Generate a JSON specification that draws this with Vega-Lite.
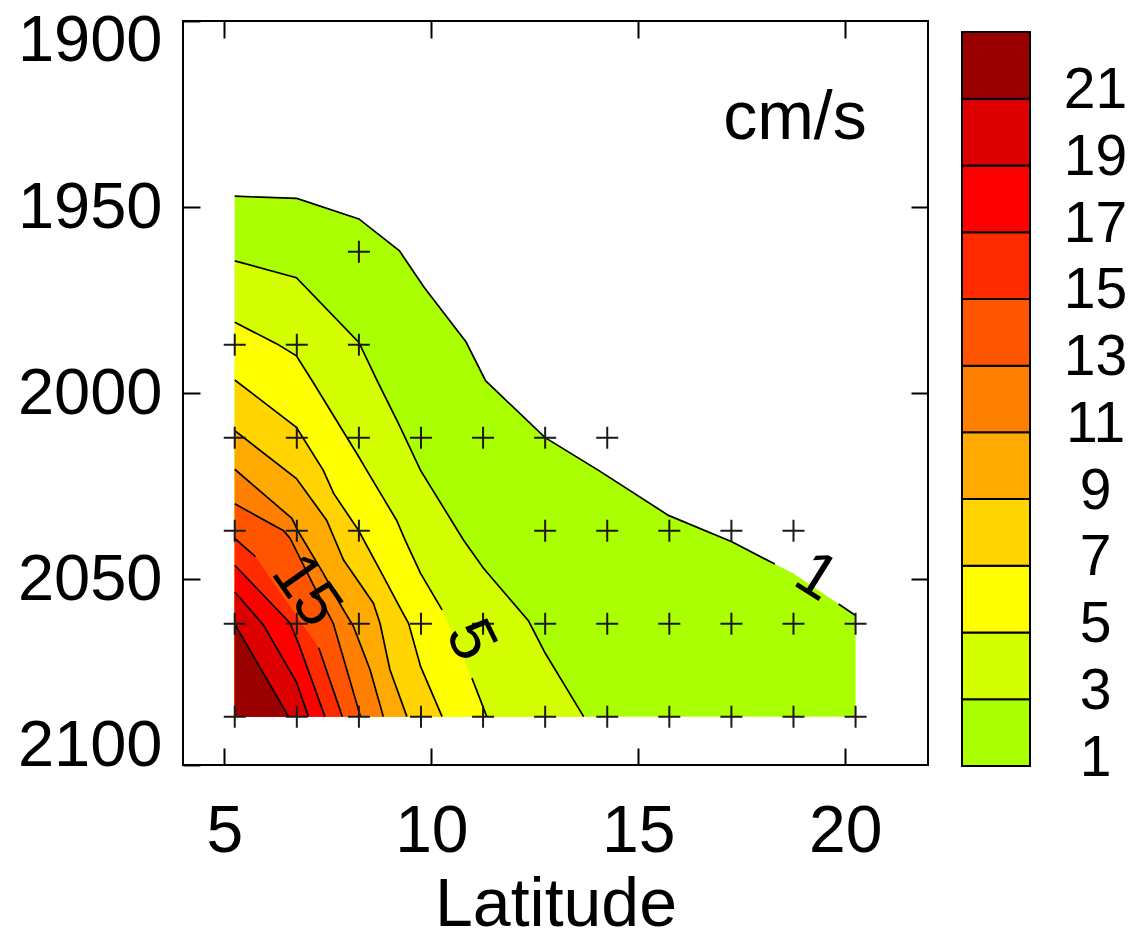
{
  "$schema": "https://vega.github.io/schema/vega-lite/v6.json",
  "autosize": {"type": "pad"},
  "padding": {"left": 16, "top": 7, "right": 4, "bottom": -9},
  "background": "white",
  "config": {
    "font": "Liberation Sans",
    "view": {"stroke": "black", "strokeWidth": 2},
    "axis": {
      "labelFont": "Liberation Sans",
      "titleFont": "Liberation Sans",
      "labelColor": "black",
      "titleColor": "black",
      "titleFontWeight": "normal",
      "grid": false,
      "labelOverlap": false
    }
  },
  "datasets": {
    "contours": [
      {"lvl": 1, "part": "a", "lat": 5.25, "yr": 1947.1},
      {"lvl": 1, "part": "a", "lat": 6.75, "yr": 1947.7},
      {"lvl": 1, "part": "a", "lat": 8.25, "yr": 1953.2},
      {"lvl": 1, "part": "a", "lat": 9.23, "yr": 1961.8},
      {"lvl": 1, "part": "a", "lat": 9.82, "yr": 1971.5},
      {"lvl": 1, "part": "a", "lat": 10.84, "yr": 1986.3},
      {"lvl": 1, "part": "a", "lat": 11.31, "yr": 1996.7},
      {"lvl": 1, "part": "a", "lat": 12.75, "yr": 2012.0},
      {"lvl": 1, "part": "a", "lat": 14.04, "yr": 2020.8},
      {"lvl": 1, "part": "a", "lat": 15.73, "yr": 2032.9},
      {"lvl": 1, "part": "a", "lat": 17.26, "yr": 2040.0},
      {"lvl": 1, "part": "a", "lat": 18.3, "yr": 2046.0},
      {"lvl": 1, "part": "gap", "lat": 18.75, "yr": 2048.5},
      {"lvl": 1, "part": "b", "lat": 19.84, "yr": 2056.7},
      {"lvl": 1, "part": "b", "lat": 20.25, "yr": 2059.8},

      {"lvl": 3, "part": "a", "lat": 5.25, "yr": 1964.5},
      {"lvl": 3, "part": "a", "lat": 6.74, "yr": 1969.0},
      {"lvl": 3, "part": "a", "lat": 8.25, "yr": 1986.4},
      {"lvl": 3, "part": "a", "lat": 8.69, "yr": 1996.7},
      {"lvl": 3, "part": "a", "lat": 9.21, "yr": 2008.3},
      {"lvl": 3, "part": "a", "lat": 9.74, "yr": 2020.8},
      {"lvl": 3, "part": "a", "lat": 10.78, "yr": 2039.6},
      {"lvl": 3, "part": "a", "lat": 11.26, "yr": 2047.1},
      {"lvl": 3, "part": "a", "lat": 12.35, "yr": 2061.3},
      {"lvl": 3, "part": "a", "lat": 12.75, "yr": 2069.9},
      {"lvl": 3, "part": "a", "lat": 13.68, "yr": 2087},

      {"lvl": 5, "part": "a", "lat": 5.25, "yr": 1981.0},
      {"lvl": 5, "part": "a", "lat": 6.27, "yr": 1986.8},
      {"lvl": 5, "part": "a", "lat": 6.74, "yr": 1990.0},
      {"lvl": 5, "part": "a", "lat": 7.12, "yr": 1996.7},
      {"lvl": 5, "part": "a", "lat": 8.25, "yr": 2017.2},
      {"lvl": 5, "part": "a", "lat": 8.44, "yr": 2020.8},
      {"lvl": 5, "part": "a", "lat": 9.16, "yr": 2034.2},
      {"lvl": 5, "part": "a", "lat": 9.37, "yr": 2039.6},
      {"lvl": 5, "part": "a", "lat": 9.74, "yr": 2048.5},
      {"lvl": 5, "part": "a", "lat": 10.26, "yr": 2058.3},
      {"lvl": 5, "part": "b", "lat": 10.98, "yr": 2076.6},
      {"lvl": 5, "part": "b", "lat": 11.34, "yr": 2087},

      {"lvl": 7, "part": "a", "lat": 5.25, "yr": 1996.5},
      {"lvl": 7, "part": "a", "lat": 6.74, "yr": 2009.2},
      {"lvl": 7, "part": "a", "lat": 7.39, "yr": 2020.8},
      {"lvl": 7, "part": "a", "lat": 7.64, "yr": 2027.0},
      {"lvl": 7, "part": "a", "lat": 8.24, "yr": 2036.9},
      {"lvl": 7, "part": "a", "lat": 8.76, "yr": 2047.6},
      {"lvl": 7, "part": "a", "lat": 9.21, "yr": 2057.0},
      {"lvl": 7, "part": "a", "lat": 9.45, "yr": 2061.9},
      {"lvl": 7, "part": "a", "lat": 9.74, "yr": 2073.5},
      {"lvl": 7, "part": "a", "lat": 10.26, "yr": 2087},

      {"lvl": 9, "part": "a", "lat": 5.25, "yr": 2010.1},
      {"lvl": 9, "part": "a", "lat": 6.74, "yr": 2023.0},
      {"lvl": 9, "part": "a", "lat": 7.47, "yr": 2034.2},
      {"lvl": 9, "part": "a", "lat": 7.88, "yr": 2044.9},
      {"lvl": 9, "part": "a", "lat": 8.6, "yr": 2056.5},
      {"lvl": 9, "part": "a", "lat": 8.76, "yr": 2061.9},
      {"lvl": 9, "part": "a", "lat": 9.0, "yr": 2074.4},
      {"lvl": 9, "part": "a", "lat": 9.41, "yr": 2087},

      {"lvl": 11, "part": "a", "lat": 5.25, "yr": 2020.5},
      {"lvl": 11, "part": "a", "lat": 6.63, "yr": 2033.7},
      {"lvl": 11, "part": "a", "lat": 6.8, "yr": 2037.5},
      {"lvl": 11, "part": "a", "lat": 7.39, "yr": 2048.5},
      {"lvl": 11, "part": "a", "lat": 7.83, "yr": 2057.4},
      {"lvl": 11, "part": "a", "lat": 8.12, "yr": 2062.8},
      {"lvl": 11, "part": "a", "lat": 8.52, "yr": 2074.4},
      {"lvl": 11, "part": "a", "lat": 8.84, "yr": 2087},

      {"lvl": 13, "part": "a", "lat": 5.25, "yr": 2029.8},
      {"lvl": 13, "part": "a", "lat": 6.43, "yr": 2037.0},
      {"lvl": 13, "part": "a", "lat": 6.59, "yr": 2039.1},
      {"lvl": 13, "part": "a", "lat": 7.1, "yr": 2050.5},
      {"lvl": 13, "part": "a", "lat": 7.63, "yr": 2061.9},
      {"lvl": 13, "part": "a", "lat": 8.29, "yr": 2087},

      {"lvl": 15, "part": "a", "lat": 5.25, "yr": 2039.1},
      {"lvl": 15, "part": "a", "lat": 5.75, "yr": 2044.0},
      {"lvl": 15, "part": "b", "lat": 7.28, "yr": 2068.5},
      {"lvl": 15, "part": "b", "lat": 7.85, "yr": 2087},

      {"lvl": 17, "part": "a", "lat": 5.25, "yr": 2046.3},
      {"lvl": 17, "part": "a", "lat": 6.59, "yr": 2061.9},
      {"lvl": 17, "part": "a", "lat": 6.79, "yr": 2067.3},
      {"lvl": 17, "part": "a", "lat": 7.43, "yr": 2087},

      {"lvl": 19, "part": "a", "lat": 5.25, "yr": 2053.5},
      {"lvl": 19, "part": "a", "lat": 5.94, "yr": 2062.3},
      {"lvl": 19, "part": "a", "lat": 6.74, "yr": 2077.7},
      {"lvl": 19, "part": "a", "lat": 7.03, "yr": 2087},

      {"lvl": 21, "part": "a", "lat": 5.25, "yr": 2062.1},
      {"lvl": 21, "part": "a", "lat": 6.55, "yr": 2087}
    ],
    "stations": [
      {"lat": 8.25, "yr": 1962},
      {"lat": 5.25, "yr": 1987}, {"lat": 6.75, "yr": 1987}, {"lat": 8.25, "yr": 1987},
      {"lat": 5.25, "yr": 2012}, {"lat": 6.75, "yr": 2012}, {"lat": 8.25, "yr": 2012}, {"lat": 9.75, "yr": 2012},
      {"lat": 11.25, "yr": 2012}, {"lat": 12.75, "yr": 2012}, {"lat": 14.25, "yr": 2012},
      {"lat": 5.25, "yr": 2037}, {"lat": 6.75, "yr": 2037}, {"lat": 8.25, "yr": 2037}, {"lat": 12.75, "yr": 2037},
      {"lat": 14.25, "yr": 2037}, {"lat": 15.75, "yr": 2037}, {"lat": 17.25, "yr": 2037}, {"lat": 18.75, "yr": 2037},
      {"lat": 5.25, "yr": 2062}, {"lat": 6.75, "yr": 2062}, {"lat": 8.25, "yr": 2062}, {"lat": 9.75, "yr": 2062},
      {"lat": 11.25, "yr": 2062}, {"lat": 12.75, "yr": 2062}, {"lat": 14.25, "yr": 2062}, {"lat": 15.75, "yr": 2062},
      {"lat": 17.25, "yr": 2062}, {"lat": 18.75, "yr": 2062}, {"lat": 20.25, "yr": 2062},
      {"lat": 5.25, "yr": 2087}, {"lat": 6.75, "yr": 2087}, {"lat": 8.25, "yr": 2087}, {"lat": 9.75, "yr": 2087},
      {"lat": 11.25, "yr": 2087}, {"lat": 12.75, "yr": 2087}, {"lat": 14.25, "yr": 2087}, {"lat": 15.75, "yr": 2087},
      {"lat": 17.25, "yr": 2087}, {"lat": 18.75, "yr": 2087}, {"lat": 20.25, "yr": 2087}
    ],
    "bins": [
      {"lvl": 1, "lo": 1, "hi": 3},
      {"lvl": 3, "lo": 3, "hi": 5},
      {"lvl": 5, "lo": 5, "hi": 7},
      {"lvl": 7, "lo": 7, "hi": 9},
      {"lvl": 9, "lo": 9, "hi": 11},
      {"lvl": 11, "lo": 11, "hi": 13},
      {"lvl": 13, "lo": 13, "hi": 15},
      {"lvl": 15, "lo": 15, "hi": 17},
      {"lvl": 17, "lo": 17, "hi": 19},
      {"lvl": 19, "lo": 19, "hi": 21},
      {"lvl": 21, "lo": 21, "hi": 23}
    ]
  },
  "bounds": "flush",
  "spacing": 34,
  "hconcat": [
    {
      "width": 745,
      "height": 744,
      "layer": [
        {
          "data": {"name": "contours"},
          "mark": {"type": "area", "orient": "vertical"},
          "encoding": {
            "x": {
              "field": "lat", "type": "quantitative",
              "scale": {"domain": [4, 22], "nice": false, "zero": false},
              "axis": {
                "orient": "bottom", "values": [5, 10, 15, 20], "title": "Latitude", "format": "d",
                "labelFontSize": 66, "titleFontSize": 68, "labelPadding": 51, "titlePadding": 7,
                "tickSize": -17, "tickWidth": 2, "tickColor": "black", "domain": false, "labelFlush": false
              }
            },
            "y": {
              "field": "yr", "type": "quantitative", "stack": null,
              "scale": {"domain": [1900, 2100], "reverse": true, "nice": false, "zero": false},
              "axis": {
                "orient": "left", "values": [1900, 1950, 2000, 2050, 2100], "title": null, "format": "d",
                "labelFontSize": 65, "labelPadding": 38, "labelBaseline": "middle",
                "labelOffset": {"condition": [{"test": "datum.value === 1900", "value": 19}, {"test": "datum.value === 2100", "value": -20}], "value": 0},
                "tickSize": -17, "tickWidth": 2, "tickColor": "black", "domain": false
              }
            },
            "y2": {"datum": 2087},
            "color": {
              "field": "lvl", "type": "ordinal", "legend": null,
              "scale": {
                "domain": [1, 3, 5, 7, 9, 11, 13, 15, 17, 19, 21],
                "range": ["#aaff00", "#d4ff00", "#ffff00", "#ffd400", "#ffaa00", "#ff8000", "#ff5500", "#ff2a00", "#ff0000", "#dd0000", "#9b0000"]
              }
            }
          }
        },
        {
          "data": {"name": "contours"},
          "transform": [{"filter": "datum.part !== 'gap'"}],
          "mark": {"type": "line", "stroke": "black", "strokeWidth": 1.7},
          "encoding": {
            "x": {"field": "lat", "type": "quantitative", "axis": null},
            "y": {"field": "yr", "type": "quantitative", "axis": null},
            "detail": [{"field": "lvl"}, {"field": "part"}]
          }
        },
        {
          "data": {"name": "stations"},
          "mark": {"type": "point", "shape": "M-1,0H1M0,-1V1", "size": 484, "filled": false, "stroke": "#1a1a1a", "strokeWidth": 2, "opacity": 1},
          "encoding": {
            "x": {
              "field": "lat", "type": "quantitative",
              "axis": {"orient": "top", "values": [5, 10, 15, 20], "labels": false, "title": null, "tickSize": -17, "tickWidth": 2, "tickColor": "black", "domain": false}
            },
            "y": {
              "field": "yr", "type": "quantitative",
              "axis": {"orient": "right", "values": [1950, 2000, 2050], "labels": false, "title": null, "tickSize": -17, "tickWidth": 2, "tickColor": "black", "domain": false}
            }
          }
        },
        {
          "data": {"values": [{"label": "15", "lat": 6.97, "yr": 2053.2}]},
          "mark": {"type": "text", "angle": 55, "fontSize": 64, "align": "center", "baseline": "middle", "color": "black"},
          "encoding": {
            "x": {"field": "lat", "type": "quantitative", "axis": null},
            "y": {"field": "yr", "type": "quantitative", "axis": null},
            "text": {"field": "label"}
          }
        },
        {
          "data": {"values": [{"label": "5", "lat": 10.94, "yr": 2066.5}]},
          "mark": {"type": "text", "angle": 64, "fontSize": 64, "align": "center", "baseline": "middle", "color": "black"},
          "encoding": {
            "x": {"field": "lat", "type": "quantitative", "axis": null},
            "y": {"field": "yr", "type": "quantitative", "axis": null},
            "text": {"field": "label"}
          }
        },
        {
          "data": {"values": [{"label": "1", "lat": 19.3, "yr": 2049.5}]},
          "mark": {"type": "text", "angle": 32, "fontSize": 64, "align": "center", "baseline": "middle", "color": "black"},
          "encoding": {
            "x": {"field": "lat", "type": "quantitative", "axis": null},
            "y": {"field": "yr", "type": "quantitative", "axis": null},
            "text": {"field": "label"}
          }
        },
        {
          "data": {"values": [{"label": "cm/s", "lat": 20.52, "yr": 1931.8}]},
          "mark": {"type": "text", "fontSize": 68, "align": "right", "baseline": "alphabetic", "color": "black"},
          "encoding": {
            "x": {"field": "lat", "type": "quantitative", "axis": null},
            "y": {"field": "yr", "type": "quantitative", "axis": null},
            "text": {"field": "label"}
          }
        }
      ],
      "resolve": {"axis": {"x": "independent", "y": "independent"}}
    },
    {
      "width": 68,
      "height": 745,
      "view": {"stroke": null},
      "data": {"name": "bins"},
      "mark": {"type": "rect", "stroke": "black", "strokeWidth": 2},
      "encoding": {
        "x": {"datum": 0, "type": "quantitative", "scale": {"domain": [0, 1], "nice": false}, "axis": null},
        "x2": {"datum": 1},
        "y": {
          "field": "lo", "type": "quantitative",
          "scale": {"domain": [1, 23.33], "nice": false, "zero": false},
          "axis": {
            "orient": "right", "values": [1, 3, 5, 7, 9, 11, 13, 15, 17, 19, 21], "title": null, "format": "d",
            "labelFontSize": 57, "labelAlign": "center", "labelBaseline": "middle", "labelPadding": 65,
            "labelOffset": -8, "ticks": false, "domain": false
          }
        },
        "y2": {"field": "hi"},
        "color": {
          "field": "lvl", "type": "ordinal", "legend": null,
          "scale": {
            "domain": [1, 3, 5, 7, 9, 11, 13, 15, 17, 19, 21],
            "range": ["#aaff00", "#d4ff00", "#ffff00", "#ffd400", "#ffaa00", "#ff8000", "#ff5500", "#ff2a00", "#ff0000", "#dd0000", "#9b0000"]
          }
        }
      }
    }
  ]
}
